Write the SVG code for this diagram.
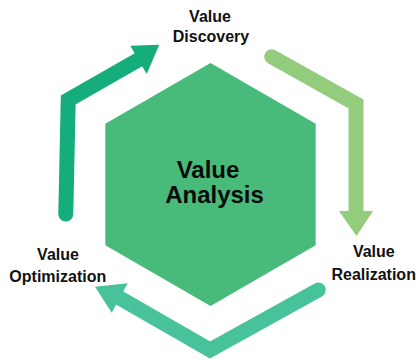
<svg xmlns="http://www.w3.org/2000/svg" width="416" height="360" viewBox="0 0 416 360">
  <style>
    .lbl { font-family: "Liberation Sans", Arial, sans-serif; font-weight: bold; font-size: 16px; fill: #111; text-anchor: middle; }
    .title { font-family: "Liberation Sans", Arial, sans-serif; font-weight: bold; font-size: 24px; fill: #0a0a0a; text-anchor: middle; }
    .shaft { fill: none; stroke-width: 15; stroke-linecap: round; stroke-linejoin: miter; }
  </style>
  <rect width="416" height="360" fill="#ffffff"/>

  <!-- central hexagon -->
  <g id="value-analysis">
    <polygon points="210.5,63 315.7,123.75 315.7,245.25 210.5,306 105.3,245.25 105.3,123.75" fill="#48BB7A"/>
    <text class="title" x="208" y="177.7">Value</text>
    <text class="title" x="214.5" y="203.3">Analysis</text>
  </g>

  <!-- cycle arrows -->
  <g id="connectors">
    <g id="optimization-to-discovery">
      <path class="shaft" stroke="#16AD7D" d="M65.8,214 L68.2,100 L138.5,59.8"/>
      <polygon fill="#16AD7D" points="130.3,45.7 159.3,44.7 146.7,74"/>
    </g>
    <g id="discovery-to-realization">
      <path class="shaft" stroke="#92CC7C" d="M271.7,56.7 L356,104 L356,211"/>
      <polygon fill="#92CC7C" points="339,211 373,211 356.5,236"/>
    </g>
    <g id="realization-to-optimization">
      <path class="shaft" stroke="#48C29A" d="M318.3,290 L210,350 L119.7,298"/>
      <polygon fill="#48C29A" points="127.7,283.3 95,286.7 111.7,312.7"/>
    </g>
  </g>

  <g id="value-discovery">
    <text class="lbl" x="210" y="21.7">Value</text>
    <text class="lbl" x="211" y="42.3">Discovery</text>
  </g>
  <g id="value-realization">
    <text class="lbl" x="373.8" y="257">Value</text>
    <text class="lbl" x="373.7" y="280">Realization</text>
  </g>
  <g id="value-optimization">
    <text class="lbl" x="58" y="260">Value</text>
    <text class="lbl" x="57.8" y="281.7">Optimization</text>
  </g>
</svg>
